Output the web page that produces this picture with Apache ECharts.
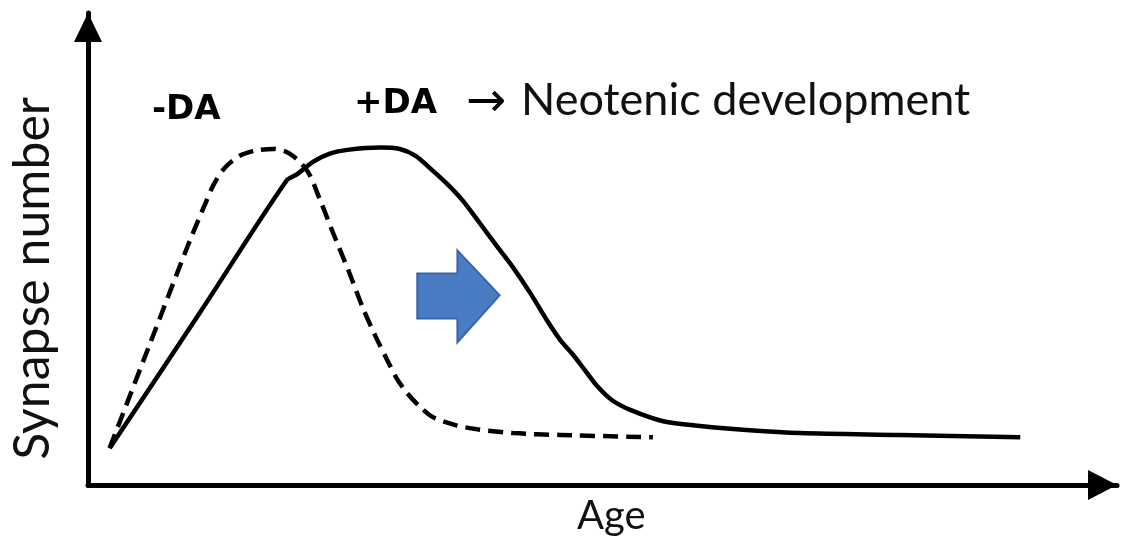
<!DOCTYPE html>
<html>
<head>
<meta charset="utf-8">
<title>Synapse number vs Age</title>
<script src="https://cdn.jsdelivr.net/npm/echarts@6/dist/echarts.min.js"></script>
<style>
  html, body { margin: 0; padding: 0; background: #fff; }
  #chart { width: 1143px; height: 548px; }
</style>
</head>
<body>
<div id="chart"></div>
<script>
// values (age / synapse number, arbitrary units 0-100)
var minusDaAge = [2.1, 6.0, 9.9, 11.4, 12.2, 13.3, 14.8, 16.2, 18.0, 19.6, 21.3, 22.5, 23.8, 25.3,
  26.7, 27.9, 29.1, 30.0, 31.0, 32.3, 33.5, 35.7, 37.8, 41.3, 45.9, 54.9];
var minusDaSyn = [7.8, 29.8, 51.8, 59.6, 63.6, 67.2, 69.8, 70.8, 71.2, 70.2, 66.6, 60.7, 53.5, 45.5,
  37.6, 31.7, 26.4, 22.6, 19.5, 16.5, 14.4, 12.7, 11.8, 11.0, 10.6, 10.1];

var plusDaAge = [2.1, 10.9, 19.3, 20.3, 21.9, 23.5, 25.2, 28.4, 30.3, 31.8, 33.2, 34.9, 36.4, 38.1,
  39.7, 41.3, 43.0, 44.6, 45.9, 47.1, 48.3, 49.5, 50.9, 52.7, 55.9, 59.5, 64.3, 69.2, 78.9, 90.6];
var plusDaSyn = [7.8, 36.6, 64.5, 65.8, 68.5, 70.2, 71.0, 71.5, 71.2, 69.8, 67.2, 63.8, 60.3, 55.4,
  50.7, 46.1, 40.6, 34.9, 30.7, 27.7, 24.3, 20.9, 18.0, 15.9, 13.5, 12.5, 11.6, 11.0, 10.6, 10.1];

// block arrow (shift to the right), outline vertices in data units
var shiftAge = [32.0, 35.9, 35.9, 40.0, 35.9, 35.9, 32.0];
var shiftSyn = [44.8, 44.8, 49.7, 40.2, 30.2, 35.3, 35.3];

function zip(xs, ys) {
  return xs.map(function (x, i) { return [x, ys[i]]; });
}

var chart = echarts.init(document.getElementById("chart"));
var option = {
  animation: false,
  grid: { left: 88, right: 26, top: 13, bottom: 63 },
  xAxis: {
    type: "value",
    min: 0,
    max: 100,
    axisLine: {
      onZero: false,
      symbol: ["none", "triangle"],
      symbolSize: [30, 29],
      symbolOffset: [0, -14.5],
      lineStyle: { color: "#000", width: 5 },
    },
    axisTick: { show: false },
    axisLabel: { show: false },
    splitLine: { show: false },
  },
  yAxis: {
    type: "value",
    min: 0,
    max: 100,
    axisLine: {
      show: true,
      onZero: false,
      symbol: ["none", "triangle"],
      symbolSize: [28, 29],
      symbolOffset: [0, -14.5],
      lineStyle: { color: "#000", width: 5 },
    },
    axisTick: { show: false },
    axisLabel: { show: false },
    splitLine: { show: false },
  },
  graphic: [
    {
      type: "text", left: 152, top: 93,
      style: { text: "-DA", font: "bold 34px 'DejaVu Sans'", fill: "#000" },
    },
    {
      type: "text", left: 354, top: 87,
      style: { text: "+DA", font: "bold 34px 'DejaVu Sans'", fill: "#000" },
    },
    {
      type: "text", left: 466, top: 80,
      style: { text: "\u2192", font: "48px 'DejaVu Sans'", fill: "#000" },
    },
    {
      type: "text", left: 521, top: 78,
      style: { text: "Neotenic development", font: "45px Lato", fill: "#111" },
    },
    {
      type: "text", left: 577, top: 496,
      style: { text: "Age", font: "40px Lato", fill: "#111" },
    },
    {
      type: "text", left: 8, top: 97,
      rotation: Math.PI / 2,
      style: { text: "Synapse number", font: "50px Lato", fill: "#111" },
    },
  ],
  series: [
    {
      name: "-DA",
      type: "line",
      data: zip(minusDaAge, minusDaSyn),
      smooth: 0.3,
      showSymbol: false,
      lineStyle: { color: "#000", width: 4.5, type: [15, 8] },
    },
    {
      name: "+DA",
      type: "line",
      data: zip(plusDaAge, plusDaSyn),
      smooth: 0.3,
      showSymbol: false,
      lineStyle: { color: "#000", width: 4.5 },
    },
    {
      name: "shift",
      type: "custom",
      data: [0],
      renderItem: function (params, api) {
        var pts = shiftAge.map(function (a, i) {
          return api.coord([a, shiftSyn[i]]);
        });
        return {
          type: "polygon",
          shape: { points: pts },
          style: { fill: "#4A7CC4", stroke: "#3A64A8", lineWidth: 2 },
        };
      },
    },
  ],
};
chart.setOption(option);
</script>
</body>
</html>
